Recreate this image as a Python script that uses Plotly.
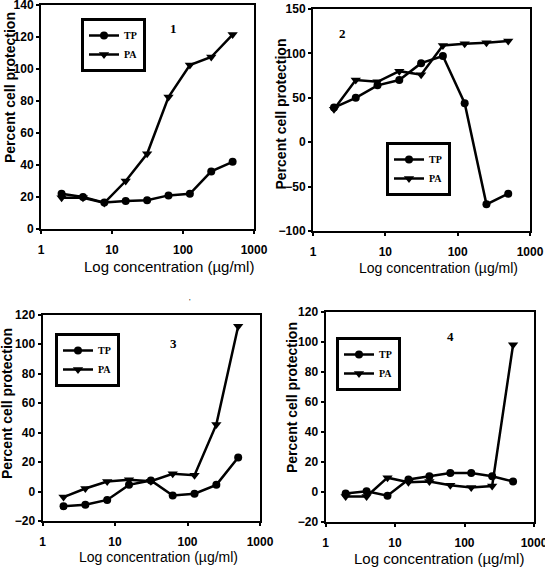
import plotly.graph_objects as go

W, H = 545, 569

conc = [1.95, 3.9, 7.8, 15.6, 31.25, 62.5, 125, 250, 500]
p1_tp = [22, 20, 16.5, 17.5, 18, 21, 22, 36, 42]
p1_pa = [19.5, 19.5, 16.3, 30, 47, 82.5, 102.5, 107.5, 121.5]
p2_tp = [39, 50, 64, 70, 89, 97, 44, -70, -58]
p2_pa = [37, 70, 68, 80, 76, 109, 111, 112, 114]
p3_tp = [-10, -9, -5.7, 4.5, 7.5, -2.7, -1.5, 4.5, 23]
p3_pa = [-3.8, 2, 6.8, 8, 7, 12, 11, 45.5, 112]
p4_tp = [-1, 0.5, -2.5, 8.3, 10.5, 12.6, 12.6, 10.5, 7]
p4_pa = [-3, -3, 9.5, 6.5, 7, 4.5, 3, 4, 98]

x_tickvals = [1, 10, 100, 1000]
x_ticktext = ["1", "10", "100", "1000"]
series_names = ["TP", "PA"]
panel_labels = ["1", "2", "3", "4"]
y_title = "Percent cell protection"
x_title = "Log concentration (µg/ml)"

def px(x):
    return x / W

def py(y):
    return 1 - y / H

panels = [
    dict(tp=p1_tp, pa=p1_pa, xd=(41, 254), yd=(5, 229), yr=(0, 140), dt=20,
         leg=(81, 18), lab=(173, 29), yt=(10, 88), xt=(169, 266), xts=15),
    dict(tp=p2_tp, pa=p2_pa, xd=(313, 530), yd=(9, 231), yr=(-100, 150), dt=50,
         leg=(386, 142), lab=(342, 33), yt=(280.5, 114), xt=(438, 268), xts=14),
    dict(tp=p3_tp, pa=p3_pa, xd=(42.5, 260), yd=(314.5, 521), yr=(-20, 120), dt=20,
         leg=(55, 333), lab=(173, 343), yt=(7, 404), xt=(158.5, 557), xts=14),
    dict(tp=p4_tp, pa=p4_pa, xd=(325.5, 534), yd=(311.7, 522), yr=(-20, 120), dt=20,
         leg=(336, 337), lab=(450, 337), yt=(292, 398), xt=(438.7, 558), xts=15),
]

fig = go.Figure()
layout = dict(
    width=W, height=H, autosize=False,
    margin=dict(l=0, r=0, t=0, b=0),
    paper_bgcolor="white", plot_bgcolor="white",
    showlegend=True,
)
annotations = []
tickfont = dict(family="Liberation Sans Narrow, Arial", size=12, color="black", weight="bold")

for i, p in enumerate(panels):
    n = "" if i == 0 else str(i + 1)
    legname = "legend" if i == 0 else f"legend{i+1}"
    xa, ya = f"x{n}", f"y{n}"
    for name, vals, sym, size in [(series_names[0], p["tp"], "circle", 8),
                                  (series_names[1], p["pa"], "triangle-down", 9)]:
        fig.add_trace(go.Scatter(
            x=conc, y=vals, name=name, mode="lines+markers",
            line=dict(color="black", width=2.5),
            marker=dict(symbol=sym, size=size, color="black"),
            xaxis=xa, yaxis=ya, legend=legname,
        ))
    layout[f"xaxis{n}"] = dict(
        domain=[px(p["xd"][0]), px(p["xd"][1])], anchor=ya, type="log",
        range=[0, 3], tickvals=x_tickvals, ticktext=x_ticktext,
        showline=True, linecolor="black", linewidth=2, mirror=True,
        ticks="outside", ticklen=3, tickwidth=1.5, tickcolor="black",
        showgrid=False, zeroline=False, tickfont=tickfont, ticklabelstandoff=6,
        automargin=False, ticklabeloverflow="allow",
    )
    layout[f"yaxis{n}"] = dict(
        domain=[py(p["yd"][1]), py(p["yd"][0])], anchor=xa,
        range=list(p["yr"]), dtick=p["dt"], tick0=0,
        showline=True, linecolor="black", linewidth=2, mirror=True,
        ticks="outside", ticklen=3, tickwidth=1.5, tickcolor="black",
        showgrid=False, zeroline=False, tickfont=tickfont, automargin=False,
        ticklabeloverflow="allow",
    )
    layout[legname] = dict(
        x=px(p["leg"][0]), y=py(p["leg"][1]), xanchor="left", yanchor="top",
        xref="paper", yref="paper",
        bordercolor="black", borderwidth=3, bgcolor="white",
        font=dict(family="Times New Roman", size=10, color="black", weight="bold"),
        itemwidth=30, tracegroupgap=0,
    )
    annotations.append(dict(
        x=px(p["lab"][0]), y=py(p["lab"][1]), xref="paper", yref="paper",
        xanchor="center", yanchor="middle",
        text=panel_labels[i], showarrow=False,
        font=dict(family="Times New Roman", size=13, color="black", weight="bold"),
    ))
    annotations.append(dict(
        x=px(p["yt"][0]), y=py(p["yt"][1]), xref="paper", yref="paper",
        xanchor="center", yanchor="middle",
        text=y_title, showarrow=False, textangle=-90,
        font=dict(family="Arial", size=14, color="black", weight="bold"),
    ))
    annotations.append(dict(
        x=px(p["xt"][0]), y=py(p["xt"][1]), xref="paper", yref="paper",
        xanchor="center", yanchor="middle",
        text=x_title, showarrow=False,
        font=dict(family="Arial", size=p["xts"], color="black"),
    ))

annotations.append(dict(
    x=px(190), y=py(302), xref="paper", yref="paper", text="'", showarrow=False,
    xanchor="center", yanchor="middle",
    font=dict(family="Arial", size=8, color="black"),
))
layout["annotations"] = annotations
fig.update_layout(**layout)
fig.write_html(
    "out.html",
    config={"displayModeBar": False},
    post_script="document.body.style.margin='0';document.body.style.overflow='hidden';",
)
